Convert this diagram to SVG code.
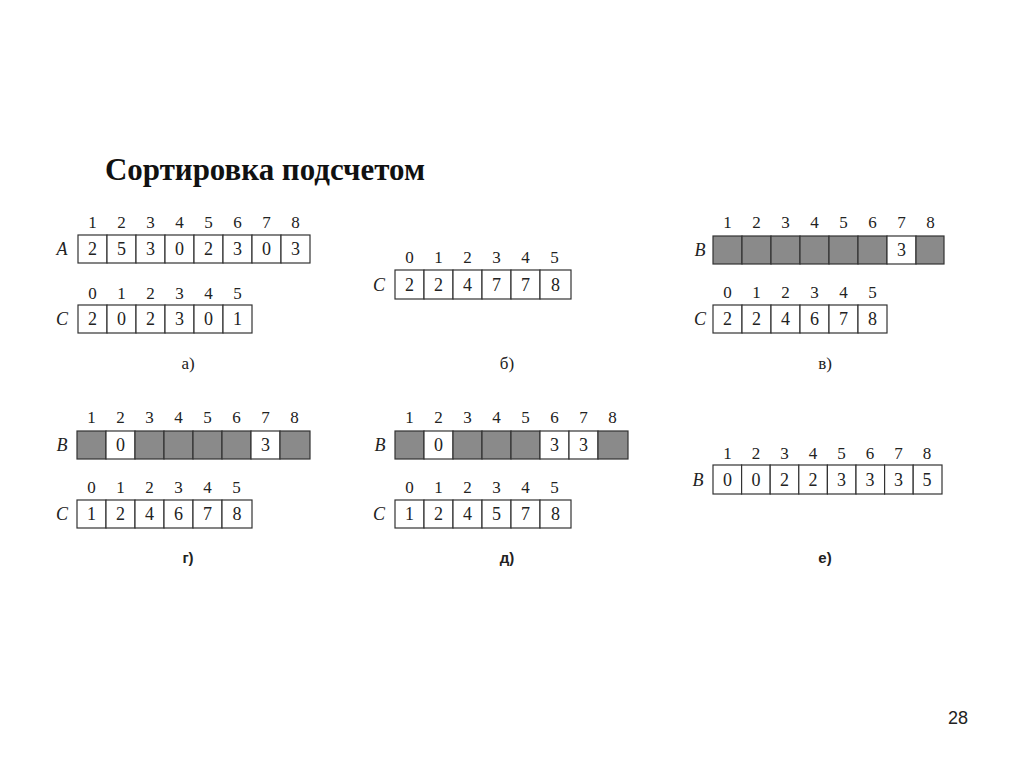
<svg xmlns="http://www.w3.org/2000/svg" width="1024" height="768" viewBox="0 0 1024 768">
<style>
.c{fill:#fff;stroke:#333;stroke-width:1.2}
.s{fill:#8a8a8a;stroke:#333;stroke-width:1.2}
.d{font-family:"Liberation Serif",serif;font-size:18px;fill:#222;text-anchor:middle}
.i{font-family:"Liberation Serif",serif;font-size:17px;fill:#222;text-anchor:middle}
.n{font-family:"Liberation Serif",serif;font-style:italic;font-size:18px;fill:#222;text-anchor:middle}
.p{font-family:"Liberation Serif",serif;font-size:17px;fill:#222;text-anchor:middle}
.q{font-family:"Liberation Sans",sans-serif;font-weight:bold;font-size:15px;fill:#222;text-anchor:middle}
</style>
<rect width="1024" height="768" fill="#fff"/>
<text id="title" x="105" y="180" font-family="Liberation Serif,serif" font-weight="bold" font-size="31" fill="#111" textLength="320" lengthAdjust="spacingAndGlyphs">Сортировка подсчетом</text>
<text id="page" x="968" y="724" font-family="Liberation Sans,sans-serif" font-size="18" fill="#222" text-anchor="end">28</text>

<g id="panel-a">
<g class="i"><text x="92.5" y="228">1</text><text x="121.5" y="228">2</text><text x="150.5" y="228">3</text><text x="179.5" y="228">4</text><text x="208.5" y="228">5</text><text x="237.5" y="228">6</text><text x="266.5" y="228">7</text><text x="295.5" y="228">8</text></g>
<text class="n" x="62" y="255">A</text>
<rect class="c" x="78" y="235" width="29" height="28"/><rect class="c" x="107" y="235" width="29" height="28"/><rect class="c" x="136" y="235" width="29" height="28"/><rect class="c" x="165" y="235" width="29" height="28"/><rect class="c" x="194" y="235" width="29" height="28"/><rect class="c" x="223" y="235" width="29" height="28"/><rect class="c" x="252" y="235" width="29" height="28"/><rect class="c" x="281" y="235" width="29" height="28"/>
<g class="d"><text x="92.5" y="255">2</text><text x="121.5" y="255">5</text><text x="150.5" y="255">3</text><text x="179.5" y="255">0</text><text x="208.5" y="255">2</text><text x="237.5" y="255">3</text><text x="266.5" y="255">0</text><text x="295.5" y="255">3</text></g>
<g class="i"><text x="92.5" y="299">0</text><text x="121.5" y="299">1</text><text x="150.5" y="299">2</text><text x="179.5" y="299">3</text><text x="208.5" y="299">4</text><text x="237.5" y="299">5</text></g>
<text class="n" x="62" y="325">C</text>
<rect class="c" x="78" y="305" width="29" height="28"/><rect class="c" x="107" y="305" width="29" height="28"/><rect class="c" x="136" y="305" width="29" height="28"/><rect class="c" x="165" y="305" width="29" height="28"/><rect class="c" x="194" y="305" width="29" height="28"/><rect class="c" x="223" y="305" width="29" height="28"/>
<g class="d"><text x="92.5" y="325">2</text><text x="121.5" y="325">0</text><text x="150.5" y="325">2</text><text x="179.5" y="325">3</text><text x="208.5" y="325">0</text><text x="237.5" y="325">1</text></g>
<text class="p" x="188" y="369">а)</text>
</g>

<g id="panel-b">
<g class="i"><text x="409.5" y="263">0</text><text x="438.5" y="263">1</text><text x="467.5" y="263">2</text><text x="496.5" y="263">3</text><text x="525.5" y="263">4</text><text x="554.5" y="263">5</text></g>
<text class="n" x="379" y="291">C</text>
<rect class="c" x="395" y="270" width="29" height="29"/><rect class="c" x="424" y="270" width="29" height="29"/><rect class="c" x="453" y="270" width="29" height="29"/><rect class="c" x="482" y="270" width="29" height="29"/><rect class="c" x="511" y="270" width="29" height="29"/><rect class="c" x="540" y="270" width="31" height="29"/>
<g class="d"><text x="409.5" y="291">2</text><text x="438.5" y="291">2</text><text x="467.5" y="291">4</text><text x="496.5" y="291">7</text><text x="525.5" y="291">7</text><text x="555.5" y="291">8</text></g>
<text class="p" x="507" y="369">б)</text>
</g>

<g id="panel-c">
<g class="i"><text x="727.5" y="228">1</text><text x="756.5" y="228">2</text><text x="785.5" y="228">3</text><text x="814.5" y="228">4</text><text x="843.5" y="228">5</text><text x="872.5" y="228">6</text><text x="901.5" y="228">7</text><text x="930.5" y="228">8</text></g>
<text class="n" x="700" y="256">B</text>
<rect class="s" x="713" y="236" width="29" height="28"/><rect class="s" x="742" y="236" width="29" height="28"/><rect class="s" x="771" y="236" width="29" height="28"/><rect class="s" x="800" y="236" width="29" height="28"/><rect class="s" x="829" y="236" width="29" height="28"/><rect class="s" x="858" y="236" width="29" height="28"/><rect class="c" x="887" y="236" width="29" height="28"/><rect class="s" x="916" y="236" width="28" height="28"/>
<text class="d" x="901.5" y="256">3</text>
<g class="i"><text x="727.5" y="298">0</text><text x="756.5" y="298">1</text><text x="785.5" y="298">2</text><text x="814.5" y="298">3</text><text x="843.5" y="298">4</text><text x="872.5" y="298">5</text></g>
<text class="n" x="700" y="325">C</text>
<rect class="c" x="713" y="305" width="29" height="28"/><rect class="c" x="742" y="305" width="29" height="28"/><rect class="c" x="771" y="305" width="29" height="28"/><rect class="c" x="800" y="305" width="29" height="28"/><rect class="c" x="829" y="305" width="29" height="28"/><rect class="c" x="858" y="305" width="29" height="28"/>
<g class="d"><text x="727.5" y="325">2</text><text x="756.5" y="325">2</text><text x="785.5" y="325">4</text><text x="814.5" y="325">6</text><text x="843.5" y="325">7</text><text x="872.5" y="325">8</text></g>
<text class="p" x="825" y="369">в)</text>
</g>

<g id="panel-d">
<g class="i"><text x="91.5" y="423">1</text><text x="120.5" y="423">2</text><text x="149.5" y="423">3</text><text x="178.5" y="423">4</text><text x="207.5" y="423">5</text><text x="236.5" y="423">6</text><text x="265.5" y="423">7</text><text x="294.5" y="423">8</text></g>
<text class="n" x="62" y="451">B</text>
<rect class="s" x="77" y="431" width="29" height="28"/><rect class="c" x="106" y="431" width="29" height="28"/><rect class="s" x="135" y="431" width="29" height="28"/><rect class="s" x="164" y="431" width="29" height="28"/><rect class="s" x="193" y="431" width="29" height="28"/><rect class="s" x="222" y="431" width="29" height="28"/><rect class="c" x="251" y="431" width="29" height="28"/><rect class="s" x="280" y="431" width="30" height="28"/>
<g class="d"><text x="120.5" y="451">0</text><text x="265.5" y="451">3</text></g>
<g class="i"><text x="91.5" y="493">0</text><text x="120.5" y="493">1</text><text x="149.5" y="493">2</text><text x="178.5" y="493">3</text><text x="207.5" y="493">4</text><text x="236.5" y="493">5</text></g>
<text class="n" x="62" y="520">C</text>
<rect class="c" x="77" y="500" width="29" height="28"/><rect class="c" x="106" y="500" width="29" height="28"/><rect class="c" x="135" y="500" width="29" height="28"/><rect class="c" x="164" y="500" width="29" height="28"/><rect class="c" x="193" y="500" width="29" height="28"/><rect class="c" x="222" y="500" width="30" height="28"/>
<g class="d"><text x="91.5" y="520">1</text><text x="120.5" y="520">2</text><text x="149.5" y="520">4</text><text x="178.5" y="520">6</text><text x="207.5" y="520">7</text><text x="237" y="520">8</text></g>
<text class="q" x="188" y="563">г)</text>
</g>

<g id="panel-e">
<g class="i"><text x="409.5" y="423">1</text><text x="438.5" y="423">2</text><text x="467.5" y="423">3</text><text x="496.5" y="423">4</text><text x="525.5" y="423">5</text><text x="554.5" y="423">6</text><text x="583.5" y="423">7</text><text x="612.5" y="423">8</text></g>
<text class="n" x="380" y="451">B</text>
<rect class="s" x="395" y="431" width="29" height="28"/><rect class="c" x="424" y="431" width="29" height="28"/><rect class="s" x="453" y="431" width="29" height="28"/><rect class="s" x="482" y="431" width="29" height="28"/><rect class="s" x="511" y="431" width="29" height="28"/><rect class="c" x="540" y="431" width="29" height="28"/><rect class="c" x="569" y="431" width="29" height="28"/><rect class="s" x="598" y="431" width="30" height="28"/>
<g class="d"><text x="438.5" y="451">0</text><text x="554.5" y="451">3</text><text x="583.5" y="451">3</text></g>
<g class="i"><text x="409.5" y="493">0</text><text x="438.5" y="493">1</text><text x="467.5" y="493">2</text><text x="496.5" y="493">3</text><text x="525.5" y="493">4</text><text x="554.5" y="493">5</text></g>
<text class="n" x="379" y="520">C</text>
<rect class="c" x="395" y="500" width="29" height="28"/><rect class="c" x="424" y="500" width="29" height="28"/><rect class="c" x="453" y="500" width="29" height="28"/><rect class="c" x="482" y="500" width="29" height="28"/><rect class="c" x="511" y="500" width="29" height="28"/><rect class="c" x="540" y="500" width="31" height="28"/>
<g class="d"><text x="409.5" y="520">1</text><text x="438.5" y="520">2</text><text x="467.5" y="520">4</text><text x="496.5" y="520">5</text><text x="525.5" y="520">7</text><text x="555.5" y="520">8</text></g>
<text class="q" x="507" y="563">д)</text>
</g>

<g id="panel-f">
<g class="i"><text x="727.5" y="459">1</text><text x="756" y="459">2</text><text x="784.5" y="459">3</text><text x="813" y="459">4</text><text x="841.5" y="459">5</text><text x="870" y="459">6</text><text x="898.5" y="459">7</text><text x="927" y="459">8</text></g>
<text class="n" x="698" y="486">B</text>
<rect class="c" x="713" y="465" width="28.6" height="29"/><rect class="c" x="741.6" y="465" width="28.6" height="29"/><rect class="c" x="770.2" y="465" width="28.6" height="29"/><rect class="c" x="798.8" y="465" width="28.6" height="29"/><rect class="c" x="827.4" y="465" width="28.6" height="29"/><rect class="c" x="856" y="465" width="28.6" height="29"/><rect class="c" x="884.6" y="465" width="28.6" height="29"/><rect class="c" x="913.2" y="465" width="28.8" height="29"/>
<g class="d"><text x="727.5" y="486">0</text><text x="756" y="486">0</text><text x="784.5" y="486">2</text><text x="813" y="486">2</text><text x="841.5" y="486">3</text><text x="870" y="486">3</text><text x="898.5" y="486">3</text><text x="927" y="486">5</text></g>
<text class="q" x="825" y="563">е)</text>
</g>
</svg>
